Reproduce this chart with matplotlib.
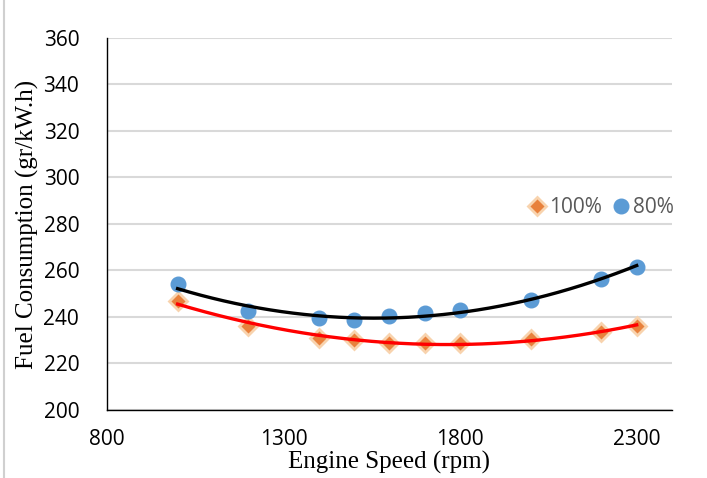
import numpy as np
import matplotlib
matplotlib.use('Agg')
import matplotlib.pyplot as plt
from matplotlib.lines import Line2D

speed = [1000, 1200, 1400, 1500, 1600, 1700, 1800, 2000, 2200, 2300]
fc_100 = [247, 236, 231, 230, 229, 229, 229, 230.5, 233.5, 236]
fc_80 = [254, 242.5, 239.5, 238.5, 240.5, 241.5, 243, 247.5, 256.5, 261.5]
x_ticks = [800, 1300, 1800, 2300]
y_ticks = [200, 220, 240, 260, 280, 300, 320, 340, 360]

tick_font = 'Open Sans'
label_font = 'Liberation Serif'

fig = plt.figure(figsize=(7.07, 4.78), dpi=100)
ax = fig.add_axes([0.1513, 0.1423, 0.7992, 0.7782])

# excel-style 2nd order trendlines
xs = np.linspace(min(speed), max(speed), 200)
p80 = np.polyfit(speed, fc_80, 2)
p100 = np.polyfit(speed, fc_100, 2)

ax.plot(speed, fc_100, 'D', ms=9, color='#E8813C', mec='#F8D3AE', mew=2.0,
        label='100%', zorder=3)
ax.plot(speed, fc_80, 'o', ms=10.5, color='#5B9BD5', mec='#5B9BD5',
        label='80%', zorder=3)
ax.plot(xs, np.polyval(p80, xs), color='black', lw=2.4, zorder=4)
ax.plot(xs, np.polyval(p100, xs), color='#FF0000', lw=2.4, zorder=4)

ax.set_xlim(800, 2400)
ax.set_ylim(200, 360)
ax.set_xticks(x_ticks)
ax.set_yticks(y_ticks)
ax.grid(axis='y', color='#D9D9D9', lw=1.5)
ax.set_axisbelow(True)
for s in ['top', 'right']:
    ax.spines[s].set_visible(False)
for s in ['left', 'bottom']:
    ax.spines[s].set_color('black')
    ax.spines[s].set_linewidth(1.0)
ax.tick_params(axis='both', length=0, labelsize=15)
ax.tick_params(axis='x', pad=14)
ax.tick_params(axis='y', pad=20)
for t in ax.get_xticklabels() + ax.get_yticklabels():
    t.set_fontfamily(tick_font)

ax.set_xlabel('Engine Speed (rpm)', fontfamily=label_font, fontsize=18, labelpad=0)
ax.set_ylabel('Fuel Consumption (gr/kW.h)', fontfamily=label_font, fontsize=18, labelpad=0)
ax.xaxis.set_label_coords(0.5, -0.11)
ax.yaxis.set_label_coords(-0.12, 0.5)

leg = ax.legend(loc='center left', bbox_to_anchor=(0.735, 0.543), ncol=2,
                frameon=False, handlelength=0.6, handletextpad=0.3,
                columnspacing=0.6, borderaxespad=0,
                prop={'family': tick_font, 'size': 15})
for t in leg.get_texts():
    t.set_color('#595959')

fig.add_artist(Line2D([0.006, 0.006], [0, 1], color='#D0D0D0', lw=1.5,
                      transform=fig.transFigure))

fig.savefig('out.png', dpi=100)
